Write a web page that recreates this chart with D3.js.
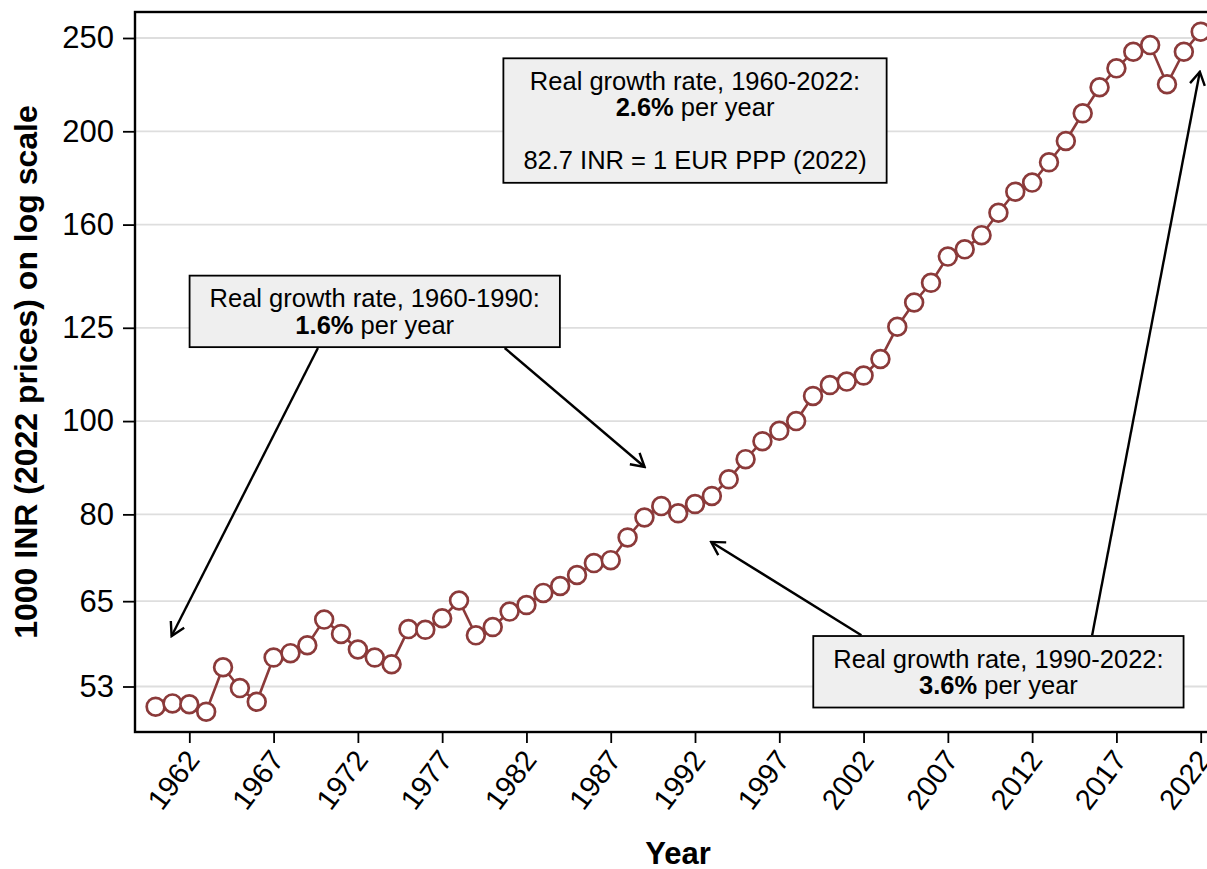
<!DOCTYPE html>
<html>
<head>
<meta charset="utf-8">
<script src="https://cdn.jsdelivr.net/npm/d3@7"></script>
<style>
  body { margin: 0; background: #fff; }
  svg { display: block; }
  text { font-family: Helvetica, "Liberation Sans", Arial, sans-serif; fill: #000; }
</style>
</head>
<body>
<div id="chart"></div>
<script>
// income per adult, 1000 INR at 2022 prices (log scale)
const years = [1960, 1961, 1962, 1963, 1964, 1965, 1966, 1967, 1968, 1969,
  1970, 1971, 1972, 1973, 1974, 1975, 1976, 1977, 1978, 1979,
  1980, 1981, 1982, 1983, 1984, 1985, 1986, 1987, 1988, 1989,
  1990, 1991, 1992, 1993, 1994, 1995, 1996, 1997, 1998, 1999,
  2000, 2001, 2002, 2003, 2004, 2005, 2006, 2007, 2008, 2009,
  2010, 2011, 2012, 2013, 2014, 2015, 2016, 2017, 2018, 2019,
  2020, 2021, 2022];
const income = [50.5, 50.9, 50.8, 49.9, 55.5, 52.8, 51.1, 56.8, 57.4, 58.5,
  62.2, 60.1, 57.9, 56.8, 55.9, 60.8, 60.7, 62.4, 65.1, 59.9,
  61.1, 63.4, 64.4, 66.3, 67.4, 69.2, 71.2, 71.7, 75.7, 79.4,
  81.6, 80.2, 82.0, 83.6, 87.0, 91.3, 95.3, 97.7, 100.0, 106.2,
  109.0, 109.9, 111.5, 116.0, 125.3, 132.8, 139.2, 148.2, 150.8, 156.0,
  164.6, 173.1, 176.9, 185.7, 195.4, 208.8, 222.2, 232.5, 241.9, 245.8,
  223.8, 241.9, 253.8];
const yTicks = [53, 65, 80, 100, 125, 160, 200, 250];
const xTicks = [1962, 1967, 1972, 1977, 1982, 1987, 1992, 1997, 2002, 2007, 2012, 2017, 2022];

// annotation boxes (centre in data coords) and arrows (year, value)
const notes = [
  { year: 1992, value: 205.2, lines: [[['', 'Real growth rate, 1960-2022:']], [['b', '2.6%'], ['', ' per year']], [], [['', '82.7 INR = 1 EUR PPP (2022)']]] },
  { year: 1973, value: 130.0, lines: [[['', 'Real growth rate, 1960-1990:']], [['b', '1.6%'], ['', ' per year']]] },
  { year: 2010, value: 54.9, lines: [[['', 'Real growth rate, 1990-2022:']], [['b', '3.6%'], ['', ' per year']]] },
];
const arrows = [
  { from: [1969.63, 119.1], to: [1960.95, 59.8] },
  { from: [1980.71, 119.1], to: [1989.01, 89.6] },
  { from: [2001.87, 59.9], to: [1992.96, 74.9] },
  { from: [2015.56, 59.9], to: [2021.95, 230.6] },
];

const W = 1207, H = 869;
const plot = { left: 135, top: 12, right: 1221, bottom: 732 };
const lineColor = '#8b3a3a';

const svg = d3.select('#chart').append('svg')
  .attr('width', W).attr('height', H);

const x = d3.scaleLinear().domain([1960, 2022]).range([155.6, 1200.7]);
const y = d3.scaleLog().domain([53, 250]).range([686.5, 38]);

svg.append('defs').append('marker')
  .attr('id', 'arr')
  .attr('viewBox', '-16 -10 18 20')
  .attr('refX', 0).attr('refY', 0)
  .attr('markerUnits', 'userSpaceOnUse')
  .attr('markerWidth', 18).attr('markerHeight', 20)
  .attr('orient', 'auto')
  .append('path')
  .attr('d', 'M -13,-7.5 L 0,0 L -13,7.5')
  .attr('fill', 'none').attr('stroke', '#000').attr('stroke-width', 2.4);

// grid
svg.append('g').selectAll('line')
  .data(yTicks)
  .join('line')
  .attr('x1', plot.left).attr('x2', plot.right)
  .attr('y1', d => y(d)).attr('y2', d => y(d))
  .attr('stroke', '#dedede').attr('stroke-width', 1.8);

// axes
const yAxis = svg.append('g')
  .attr('transform', `translate(${plot.left},0)`)
  .call(d3.axisLeft(y).tickValues(yTicks).tickFormat(d3.format('d')).tickSize(12).tickPadding(9));
yAxis.select('.domain').remove();
yAxis.selectAll('line').attr('stroke-width', 1.8);
yAxis.selectAll('text').attr('font-size', 31).attr('font-family', null);

const xAxis = svg.append('g')
  .attr('transform', `translate(0,${plot.bottom})`)
  .call(d3.axisBottom(x).tickValues(xTicks).tickFormat(d3.format('d')).tickSize(11));
xAxis.select('.domain').remove();
xAxis.selectAll('line').attr('stroke-width', 1.8);
xAxis.selectAll('text')
  .attr('font-size', 29).attr('font-family', null)
  .attr('x', 0).attr('y', 0)
  .attr('dy', '0.35em')
  .attr('text-anchor', 'end')
  .attr('transform', 'translate(3,22) rotate(-53)');

// frame
svg.append('rect')
  .attr('x', plot.left).attr('y', plot.top)
  .attr('width', plot.right - plot.left).attr('height', plot.bottom - plot.top)
  .attr('fill', 'none').attr('stroke', '#000').attr('stroke-width', 2.4);

// series
svg.append('path')
  .datum(years)
  .attr('fill', 'none')
  .attr('stroke', lineColor).attr('stroke-width', 2.6)
  .attr('d', d3.line().x(d => x(d)).y((d, i) => y(income[i])));

svg.append('g').selectAll('circle')
  .data(years)
  .join('circle')
  .attr('cx', d => x(d))
  .attr('cy', (d, i) => y(income[i]))
  .attr('r', 8.9)
  .attr('fill', '#fff')
  .attr('stroke', lineColor).attr('stroke-width', 2.7);

// arrows
svg.append('g').selectAll('line')
  .data(arrows)
  .join('line')
  .attr('x1', d => x(d.from[0])).attr('y1', d => y(d.from[1]))
  .attr('x2', d => x(d.to[0])).attr('y2', d => y(d.to[1]))
  .attr('stroke', '#000').attr('stroke-width', 2.4)
  .attr('marker-end', 'url(#arr)');

// boxes
const lineH = 26.5;
notes.forEach(n => {
  const g = svg.append('g');
  const rect = g.append('rect');
  const t = g.append('text').attr('font-size', 25.5).attr('text-anchor', 'middle');
  n.lines.forEach((segs, i) => {
    const line = t.append('tspan').attr('x', 0).attr('y', i * lineH);
    segs.forEach(s => {
      line.append('tspan').text(s[1]).attr('font-weight', s[0] === 'b' ? 'bold' : null);
    });
  });
  const bb = t.node().getBBox();
  const padX = 20, padY = 8.5;
  rect.attr('x', bb.x - padX).attr('y', bb.y - padY)
    .attr('width', bb.width + padX * 2).attr('height', bb.height + padY * 2)
    .attr('fill', '#efefef').attr('stroke', '#000').attr('stroke-width', 1.8);
  const cx = bb.x + bb.width / 2, cy = bb.y + bb.height / 2;
  g.attr('transform', `translate(${x(n.year) - cx},${y(n.value) - cy})`);
});

// titles
svg.append('text')
  .attr('x', (plot.left + plot.right) / 2).attr('y', 864)
  .attr('text-anchor', 'middle')
  .attr('font-size', 31).attr('font-weight', 'bold')
  .text('Year');

svg.append('text')
  .attr('transform', `translate(37,${(plot.top + plot.bottom) / 2}) rotate(-90)`)
  .attr('text-anchor', 'middle')
  .attr('font-size', 32).attr('font-weight', 'bold')
  .text('1000 INR (2022 prices) on log scale');
</script>
</body>
</html>
